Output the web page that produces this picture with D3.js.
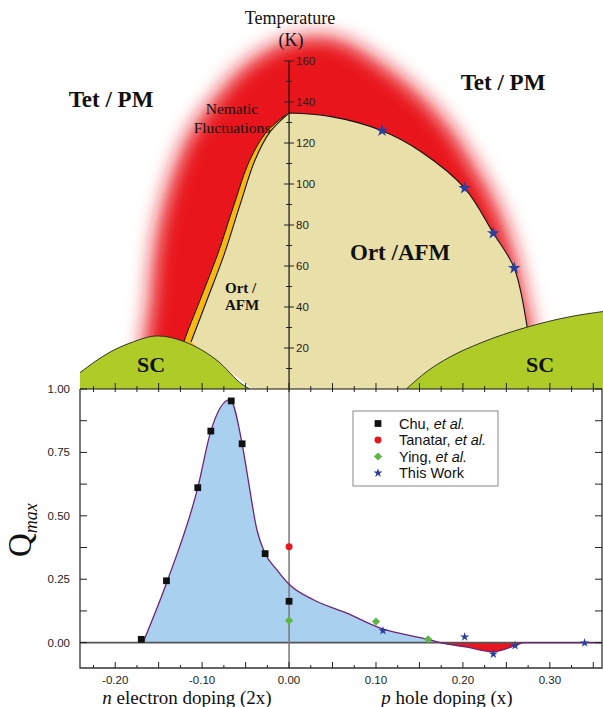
<!DOCTYPE html>
<html>
<head>
<meta charset="utf-8">
<script src="https://cdn.jsdelivr.net/npm/d3@7"></script>
<style>
  body { margin: 0; background: #fff; }
  svg { display: block; }
  .serif { font-family: "Liberation Serif", "Times New Roman", serif; }
  .sans { font-family: "Liberation Sans", Arial, sans-serif; }
</style>
</head>
<body>
<div id="chart"></div>
<script>
// ---------- top panel: phase diagram (doping, T in K) ----------
const afmLeftX  = [-0.1128, -0.0944, -0.0748, -0.0564, -0.0391, -0.0219, 0];
const afmLeftT  = [22.9, 43.4, 65.4, 89.8, 111.7, 125.4, 134.6];
const afmRightX = [0, 0.047, 0.107, 0.151, 0.202, 0.235, 0.259, 0.274, 0.283];
const afmRightT = [134.6, 133, 126, 116, 98, 76, 59, 30, 0];
const afmFootX  = [-0.042, -0.060, -0.090];
const afmFootT  = [0, 6, 14];

const nemX = [-0.125, -0.121, -0.1024, -0.0824, -0.0634, -0.0451, -0.0259, -0.003];
const nemT = [16, 22.9, 43.4, 65.4, 89.8, 111.7, 125.4, 134];

const glowX = [-0.163, -0.160, -0.153, -0.139, -0.116, -0.083, -0.047, 0, 0.053, 0.121, 0.176, 0.216, 0.239, 0.258, 0.271, 0.276, 0.20, 0.0, -0.12];
const glowT = [14, 43, 73, 98, 123, 143, 159, 170, 171, 154, 132, 107, 89, 67, 43, 24, 16, 16, 12];

const scLeftX  = [-0.2405, -0.206, -0.183, -0.151, -0.120, -0.083, -0.053, -0.045];
const scLeftT  = [8, 18, 22.4, 25.9, 23, 14, 2, 0];
const scRightX = [0.135, 0.160, 0.185, 0.220, 0.274, 0.320, 0.365];
const scRightT = [0, 9, 15.6, 22.4, 30.2, 35, 38];

const topStarX = [0.107, 0.202, 0.235, 0.259];
const topStarT = [126, 98, 76, 59];

const tTicks = [20, 40, 60, 80, 100, 120, 140, 160];

// ---------- bottom panel: Q_max vs doping ----------
const chuX = [-0.17, -0.141, -0.105, -0.090, -0.0665, -0.054, -0.0275, 0.0];
const chuY = [0.013, 0.244, 0.611, 0.834, 0.953, 0.784, 0.351, 0.163];
const tanX = [0.0];
const tanY = [0.378];
const yingX = [0.0, 0.10, 0.16];
const yingY = [0.087, 0.083, 0.013];
const workX = [0.108, 0.202, 0.235, 0.260, 0.340];
const workY = [0.047, 0.0225, -0.045, -0.012, -0.001];

const qCurveX = [-0.168, -0.14, -0.105, -0.09, -0.068, -0.054, -0.047, -0.037, -0.0275, -0.014, 0, 0.028, 0.0665, 0.105, 0.16, 0.174, 0.205, 0.235, 0.26, 0.27, 0.36];
const qCurveY = [0, 0.244, 0.611, 0.834, 0.958, 0.784, 0.642, 0.445, 0.351, 0.287, 0.23, 0.169, 0.116, 0.057, 0.013, 0, -0.018, -0.036, -0.012, 0, 0];

const xTicks = [-0.20, -0.10, 0.00, 0.10, 0.20, 0.30];
const qTicks = [0.00, 0.25, 0.50, 0.75, 1.00];

const legendNames = ['Chu, ', 'Tanatar, ', 'Ying, ', 'This Work'];
const legendItalic = ['et al.', 'et al.', 'et al.', ''];

// ---------- layout ----------
const W = 603, H = 707;
const RED = '#e8161e', ORANGE = '#f6b812', TAN = '#e9dfa9', GREEN = '#aecb27';
const BLUE = '#a9d1ef', PURPLE = '#6e2474', STAR = '#2b3f9e', YING = '#5db642';

const x  = d3.scaleLinear().domain([-0.2405, 0.36]).range([80, 602]);
const yT = d3.scaleLinear().domain([0, 160]).range([389, 61]);
const yQ = d3.scaleLinear().domain([-0.1, 1.0]).range([668, 389]);

const svg = d3.select('#chart').append('svg')
  .attr('width', W).attr('height', H);

const defs = svg.append('defs');
defs.append('filter').attr('id', 'glowBlur')
    .attr('x', '-30%').attr('y', '-30%').attr('width', '160%').attr('height', '160%')
  .append('feGaussianBlur').attr('stdDeviation', 10);
defs.append('clipPath').attr('id', 'topClip').append('rect')
  .attr('x', x.range()[0]).attr('y', 0).attr('width', W - x.range()[0]).attr('height', yT(0));
defs.append('clipPath').attr('id', 'posClip').append('rect')
  .attr('x', x.range()[0]).attr('y', yQ.range()[1])
  .attr('width', x.range()[1] - x.range()[0]).attr('height', yQ(0) - yQ.range()[1]);
defs.append('clipPath').attr('id', 'negClip').append('rect')
  .attr('x', x.range()[0]).attr('y', yQ(0))
  .attr('width', x.range()[1] - x.range()[0]).attr('height', yQ.range()[0] - yQ(0));

const pts = (xs, ys) => d3.zip(xs, ys);
const tCurve  = d3.line().x(d => x(d[0])).y(d => yT(d[1])).curve(d3.curveCatmullRom.alpha(0.5));
const tLinear = d3.line().x(d => x(d[0])).y(d => yT(d[1]));
const tClosed = d3.line().x(d => x(d[0])).y(d => yT(d[1])).curve(d3.curveCatmullRomClosed.alpha(0.5));
const asL = s => s.replace(/^M/, 'L');

// ---------- top panel ----------
const topG = svg.append('g').attr('clip-path', 'url(#topClip)');

// red glow of nematic fluctuations
topG.append('path')
  .attr('d', tClosed(pts(glowX, glowT)))
  .attr('fill', RED)
  .attr('filter', 'url(#glowBlur)');

// nematic band
const nemOuter = pts(nemX, nemT);
const nemInner = pts(afmLeftX.map((v, i) => i < afmLeftX.length - 1 ? v + 0.01 : v), afmLeftT).reverse();
topG.append('path')
  .attr('d', tCurve(nemOuter) + asL(tLinear(nemInner)) + 'Z')
  .attr('fill', ORANGE);
topG.append('path')
  .attr('d', tCurve(nemOuter))
  .attr('fill', 'none').attr('stroke', '#111').attr('stroke-width', 1);

// Ort / AFM dome
topG.append('path')
  .attr('d', tLinear(pts(afmFootX, afmFootT)) + asL(tCurve(pts(afmLeftX, afmLeftT))) + asL(tCurve(pts(afmRightX, afmRightT))) + 'Z')
  .attr('fill', TAN);
topG.append('path')
  .attr('d', tCurve(pts(afmLeftX, afmLeftT)) + asL(tCurve(pts(afmRightX, afmRightT))))
  .attr('fill', 'none').attr('stroke', '#111').attr('stroke-width', 1.1);

// SC domes
const scArea = d3.area().x(d => x(d[0])).y0(yT(0)).y1(d => yT(d[1])).curve(d3.curveMonotoneX);
const scLine = d3.line().x(d => x(d[0])).y(d => yT(d[1])).curve(d3.curveMonotoneX);
[[scLeftX, scLeftT], [scRightX, scRightT]].forEach(([xs, ts]) => {
  topG.append('path').attr('d', scArea(pts(xs, ts))).attr('fill', GREEN);
  topG.append('path').attr('d', scLine(pts(xs, ts)))
    .attr('fill', 'none').attr('stroke', '#222').attr('stroke-width', 0.9);
});

// temperature axis
const tAxis = svg.append('g');
tAxis.append('line')
  .attr('x1', x(0)).attr('x2', x(0)).attr('y1', yT(160)).attr('y2', yT(0))
  .attr('stroke', '#111').attr('stroke-width', 1.2);
tAxis.selectAll('.tt')
  .data(d3.range(10, 161, 10))
  .join('line')
    .attr('x1', d => x(0) - (d % 20 === 0 ? 5 : 3))
    .attr('x2', d => x(0) + (d % 20 === 0 ? 5 : 3))
    .attr('y1', d => yT(d)).attr('y2', d => yT(d))
    .attr('stroke', '#222').attr('stroke-width', 1);
tAxis.selectAll('.tl')
  .data(tTicks)
  .join('text')
    .attr('class', 'sans')
    .attr('x', x(0) + 7).attr('y', d => yT(d) + 4)
    .attr('font-size', 11.5).attr('fill', '#222')
    .text(d => d);

// stars on the AFM boundary
const starTop = d3.symbol(d3.symbolStar, 50)();
svg.selectAll('.tstar')
  .data(pts(topStarX, topStarT))
  .join('path')
    .attr('d', starTop)
    .attr('transform', d => `translate(${x(d[0])},${yT(d[1])})`)
    .attr('fill', STAR);

// top texts
const txt = (s, px, py, size, opts = {}) => svg.append('text')
  .attr('class', 'serif').attr('x', px).attr('y', py)
  .attr('font-size', size)
  .attr('font-weight', opts.bold ? 'bold' : null)
  .attr('text-anchor', opts.anchor || 'start')
  .attr('fill', '#111')
  .text(s);

txt('Temperature', 290, 24, 18, { anchor: 'middle' });
txt('(K)', 291, 46, 18, { anchor: 'middle' });
txt('Tet / PM', 111, 107, 23, { bold: true, anchor: 'middle' });
txt('Tet / PM', 503, 90, 23, { bold: true, anchor: 'middle' });
txt('Nematic', 232, 114, 15.5, { anchor: 'middle' });
txt('Fluctuations', 232, 133, 15.5, { anchor: 'middle' });
txt('Ort /', 225, 293, 15, { bold: true });
txt('AFM', 225, 310, 15, { bold: true });
txt('Ort /AFM', 350, 260, 23, { bold: true });
txt('SC', 151, 372, 22, { bold: true, anchor: 'middle' });
txt('SC', 540, 372, 22, { bold: true, anchor: 'middle' });

// ---------- bottom panel ----------
const bot = svg.append('g');
const qArea = d3.area().x(d => x(d[0])).y0(yQ(0)).y1(d => yQ(d[1])).curve(d3.curveMonotoneX);
const qLine = d3.line().x(d => x(d[0])).y(d => yQ(d[1])).curve(d3.curveMonotoneX);
const qPts = pts(qCurveX, qCurveY);

bot.append('path').attr('d', qArea(qPts)).attr('fill', BLUE).attr('clip-path', 'url(#posClip)');
bot.append('path').attr('d', qArea(qPts)).attr('fill', RED).attr('clip-path', 'url(#negClip)');

// zero lines
bot.append('line')
  .attr('x1', x.range()[0]).attr('x2', x.range()[1]).attr('y1', yQ(0)).attr('y2', yQ(0))
  .attr('stroke', '#555').attr('stroke-width', 1.6);
bot.append('line')
  .attr('x1', x(0)).attr('x2', x(0)).attr('y1', yQ.range()[1]).attr('y2', yQ.range()[0])
  .attr('stroke', '#777').attr('stroke-width', 1.5);

bot.append('path').attr('d', qLine(qPts))
  .attr('fill', 'none').attr('stroke', PURPLE).attr('stroke-width', 1.3);

// markers
const symSquare  = d3.symbol(d3.symbolSquare, 46)();
const symCircle  = d3.symbol(d3.symbolCircle, 38)();
const symDiamond = d3.symbol(d3.symbolSquare, 34)();
const symStar    = d3.symbol(d3.symbolStar, 26)();

const series = [
  { xs: chuX,  ys: chuY,  d: symSquare,  fill: '#111', rot: 0 },
  { xs: tanX,  ys: tanY,  d: symCircle,  fill: RED,    rot: 0 },
  { xs: yingX, ys: yingY, d: symDiamond, fill: YING,   rot: 45 },
  { xs: workX, ys: workY, d: symStar,    fill: STAR,   rot: 0 }
];
series.forEach(s => {
  bot.selectAll(null)
    .data(pts(s.xs, s.ys))
    .join('path')
      .attr('d', s.d)
      .attr('transform', d => `translate(${x(d[0])},${yQ(d[1])}) rotate(${s.rot})`)
      .attr('fill', s.fill);
});

// frame
const [fx0, fx1] = x.range();
const [fy1, fy0] = yQ.range();
bot.append('line').attr('x1', fx0).attr('x2', fx1).attr('y1', fy0).attr('y2', fy0)
  .attr('stroke', '#111').attr('stroke-width', 1.2);
bot.append('path')
  .attr('d', `M${fx0},${fy0}V${fy1}H${fx1}V${fy0}`)
  .attr('fill', 'none').attr('stroke', '#333').attr('stroke-width', 1.3);

// x ticks on both horizontal axes
const xMinor = d3.range(-0.225, 0.36, 0.025).map(v => +v.toFixed(3));
const isMajor = v => Math.abs(Math.round(v / 0.05) * 0.05 - v) < 1e-6;
bot.selectAll('.xtTop')
  .data(xMinor)
  .join('line')
    .attr('x1', d => x(d)).attr('x2', d => x(d))
    .attr('y1', d => fy0 - (isMajor(d) ? 6 : 3)).attr('y2', fy0 + 3)
    .attr('stroke', '#222').attr('stroke-width', 1);
bot.selectAll('.xtBot')
  .data(xMinor)
  .join('line')
    .attr('x1', d => x(d)).attr('x2', d => x(d))
    .attr('y1', d => fy1 - (isMajor(d) ? 6 : 3)).attr('y2', fy1)
    .attr('stroke', '#222').attr('stroke-width', 1);

// y ticks left and right
const qMinor = d3.range(0, 1.001, 0.125);
bot.selectAll('.ytL')
  .data(qMinor)
  .join('line')
    .attr('x1', fx0).attr('x2', fx0 + 7)
    .attr('y1', d => yQ(d)).attr('y2', d => yQ(d))
    .attr('stroke', '#222').attr('stroke-width', 1);
bot.selectAll('.ytR')
  .data(qMinor)
  .join('line')
    .attr('x1', fx1).attr('x2', fx1 - 7)
    .attr('y1', d => yQ(d)).attr('y2', d => yQ(d))
    .attr('stroke', '#222').attr('stroke-width', 1);

// tick labels
bot.selectAll('.xl')
  .data(xTicks)
  .join('text')
    .attr('class', 'sans')
    .attr('x', d => x(d)).attr('y', 684)
    .attr('text-anchor', 'middle').attr('font-size', 11.5).attr('fill', '#222')
    .text(d => d.toFixed(2));
bot.selectAll('.yl')
  .data(qTicks)
  .join('text')
    .attr('class', 'sans')
    .attr('x', 70).attr('y', d => yQ(d) + 4)
    .attr('text-anchor', 'end').attr('font-size', 11.5).attr('fill', '#222')
    .text(d => d.toFixed(2));

// axis titles
const xt1 = bot.append('text').attr('class', 'serif')
  .attr('x', 187).attr('y', 704).attr('text-anchor', 'middle').attr('font-size', 19).attr('fill', '#111');
xt1.append('tspan').attr('font-style', 'italic').text('n');
xt1.append('tspan').text(' electron doping (2x)');
const xt2 = bot.append('text').attr('class', 'serif')
  .attr('x', 447).attr('y', 704).attr('text-anchor', 'middle').attr('font-size', 19).attr('fill', '#111');
xt2.append('tspan').attr('font-style', 'italic').text('p');
xt2.append('tspan').text(' hole doping (x)');

const yt = bot.append('text').attr('class', 'serif')
  .attr('transform', 'translate(31,557) rotate(-90)')
  .attr('fill', '#111');
yt.append('tspan').attr('font-size', 33).text('Q');
yt.append('tspan').attr('font-size', 18).attr('font-style', 'italic').attr('dy', 6).text('max');

// legend
const leg = bot.append('g').attr('transform', 'translate(353,411)');
leg.append('rect').attr('width', 145).attr('height', 75)
  .attr('fill', '#fff').attr('stroke', '#888').attr('stroke-width', 1);
series.forEach((s, i) => {
  const cy = 12.5 + i * 16.5;
  leg.append('path').attr('d', s.d)
    .attr('transform', `translate(25,${cy}) rotate(${s.rot})`)
    .attr('fill', s.fill);
  const t = leg.append('text').attr('class', 'sans')
    .attr('x', 46).attr('y', cy + 5).attr('font-size', 14.5).attr('fill', '#111');
  t.append('tspan').text(legendNames[i]);
  if (legendItalic[i]) t.append('tspan').attr('font-style', 'italic').text(legendItalic[i]);
});
</script>
</body>
</html>
